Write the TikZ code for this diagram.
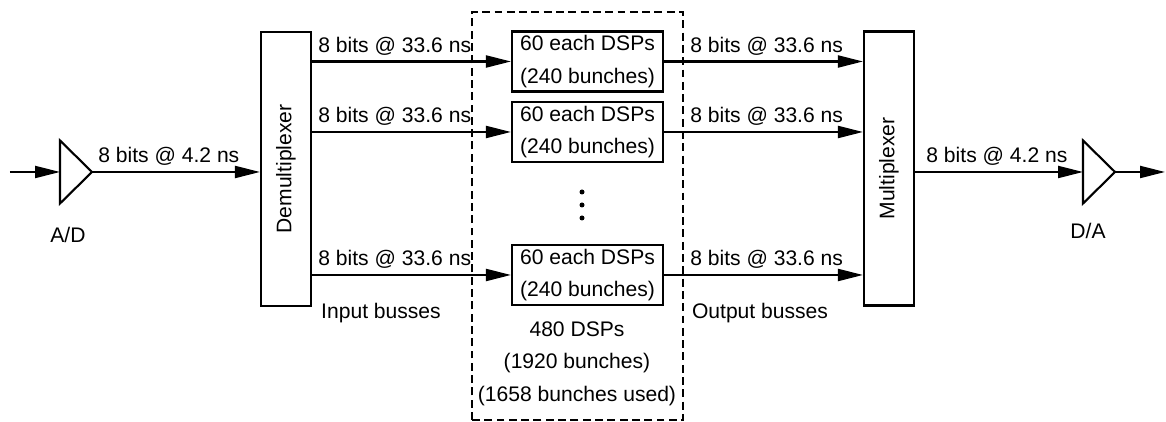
\documentclass[tikz,border=0pt]{standalone}
\usepackage{fontspec}
\setmainfont{Liberation Sans}
\usetikzlibrary{arrows.meta}

\begin{document}
\begin{tikzpicture}[>={Triangle[length=0.5cm,width=0.24cm]},line width=1.2pt,font=\fontsize{12}{18.5}\selectfont,
  dspbox/.style={draw,minimum width=3.02cm,minimum height=1.2cm,align=center,inner sep=1pt},
  muxbox/.style={draw,minimum width=1cm,minimum height=5.48cm,inner sep=0pt},
  lbl/.style={above right,inner sep=3pt}]
  \useasboundingbox (0,0) rectangle (23.32,8.44);

  % 虚线框
  \draw[dash pattern=on 4.5pt off 2.5pt] (9.44,0.04) rectangle (13.66,8.2);

  % A/D 转换器
  \coordinate (src) at (0.2,5.0);
  \coordinate (adin) at (1.2,5.0);
  \draw (1.2,5.63) -- (1.84,5.0) coordinate (adout) -- (1.2,4.37) -- cycle;
  \node (adname) at (1.36,3.74) {A/D};

  % D/A 转换器
  \coordinate (dain) at (21.66,5.0);
  \coordinate (sink) at (23.3,5.0);
  \draw (21.66,5.63) -- (22.3,5.0) coordinate (daout) -- (21.66,4.37) -- cycle;
  \node (daname) at (21.76,3.82) {D/A};

  % 分路器与合路器
  \node[muxbox] (dmux) at (5.72,5.06) {\rotatebox{90}{Demultiplexer}};
  \node[muxbox] (mux) at (17.78,5.07) {\rotatebox{90}{Multiplexer}};

  % DSP 组
  \node[dspbox] (dsp1) at (11.75,7.21) {60 each DSPs\\(240 bunches)};
  \node[dspbox] (dsp2) at (11.75,5.8) {60 each DSPs\\(240 bunches)};
  \node[dspbox] (dsp3) at (11.75,2.94) {60 each DSPs\\(240 bunches)};
  \foreach \y in {4.6,4.34,4.08}
    \fill (11.64,\y) circle (0.05);

  % 总线
  \draw[->] (src) -- (adin);
  \draw[->] (adout) -- (adout -| dmux.west) node[lbl,pos=0] (adrate) {8 bits @ 4.2 ns};
  \foreach \d in {dsp1,dsp2,dsp3} {
    \draw[->] (dmux.east |- \d.west) -- (\d.west) node[lbl,pos=0] (in-\d) {8 bits @ 33.6 ns};
    \draw[->] (\d.east) -- (mux.west |- \d.east) node[lbl,pos=0.1] (out-\d) {8 bits @ 33.6 ns};
  }
  \draw[->] (mux.east |- dain) -- (dain) node[lbl,pos=0.03] (darate) {8 bits @ 4.2 ns};
  \draw[->] (daout) -- (sink);

  % 说明文字
  \node (inbus) at (7.62,2.18) {Input busses};
  \node (outbus) at (15.2,2.18) {Output busses};
  \node[align=center] (total) at (11.54,1.17) {480 DSPs\\(1920 bunches)\\(1658 bunches used)};
\end{tikzpicture}
\end{document}
